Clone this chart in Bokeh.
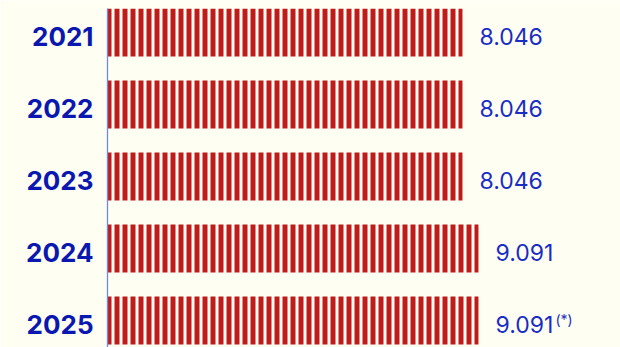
from bokeh.plotting import figure
from bokeh.models import Range1d, FixedTicker, ColumnDataSource
from bokeh.core.properties import value
from bokeh.embed import file_html
from bokeh.resources import INLINE

# ---- data ----
years = ["2021", "2022", "2023", "2024", "2025"]
values = [8.046, 8.046, 8.046, 9.091, 9.091]
value_labels = ["8.046", "8.046", "8.046", "9.091", "9.091"]
footnote_marks = ["", "", "", "", "(*)"]

# ---- style ----
BG = "#fefef2"
RED = "#bf1b1b"
NAVY = "#0a18b0"
BLUE = "#1a2cc4"
AXIS = "#7088f0"
BASE = -15.14  # value at the left edge of the bars

pos = list(range(len(years)))
src = ColumnDataSource(dict(
    y=pos, v=values, lab=value_labels, fn=footnote_marks, yr=years,
    base=[BASE] * len(values),
))

p = figure(width=620, height=347, output_backend="svg", toolbar_location=None,
           x_range=Range1d(BASE, 18.37), y_range=Range1d(4.375, -0.3333),
           min_border_left=107, min_border_right=0, min_border_top=8,
           min_border_bottom=0, background_fill_color=BG,
           border_fill_color=BG, outline_line_color=None)

p.hbar(y="y", left="base", right="v", height=0.6667, source=src,
       fill_color=BG, line_color=None, hatch_pattern="|",
       hatch_color=RED, hatch_scale=8, hatch_weight=5)

p.text(x="v", y="y", text="lab", source=src, x_offset=17, y_offset=4,
       text_align="left", text_baseline="middle",
       text_font=value("Inter"), text_font_size="23px", text_color=BLUE)
p.text(x="v", y="y", text="fn", source=src, x_offset=77, y_offset=-1,
       text_align="left", text_baseline="middle",
       text_font=value("Inter"), text_font_size="14px", text_color=BLUE)

# year labels (category axis labels)
yl = p.text(x="base", y="y", text="yr", source=src, x_offset=-14, y_offset=4,
            text_align="right", text_baseline="middle",
            text_font=value("Inter"), text_font_style="bold",
            text_font_size="26px", text_color=NAVY)
yl.level = "overlay"

p.xaxis.visible = False
p.xgrid.visible = False
p.ygrid.visible = False
ya = p.yaxis[0]
ya.ticker = FixedTicker(ticks=[])
ya.major_tick_line_color = None
ya.minor_tick_line_color = None
ya.axis_line_color = AXIS
ya.axis_line_width = 1.3

open("out.html", "w").write(file_html(p, INLINE))
